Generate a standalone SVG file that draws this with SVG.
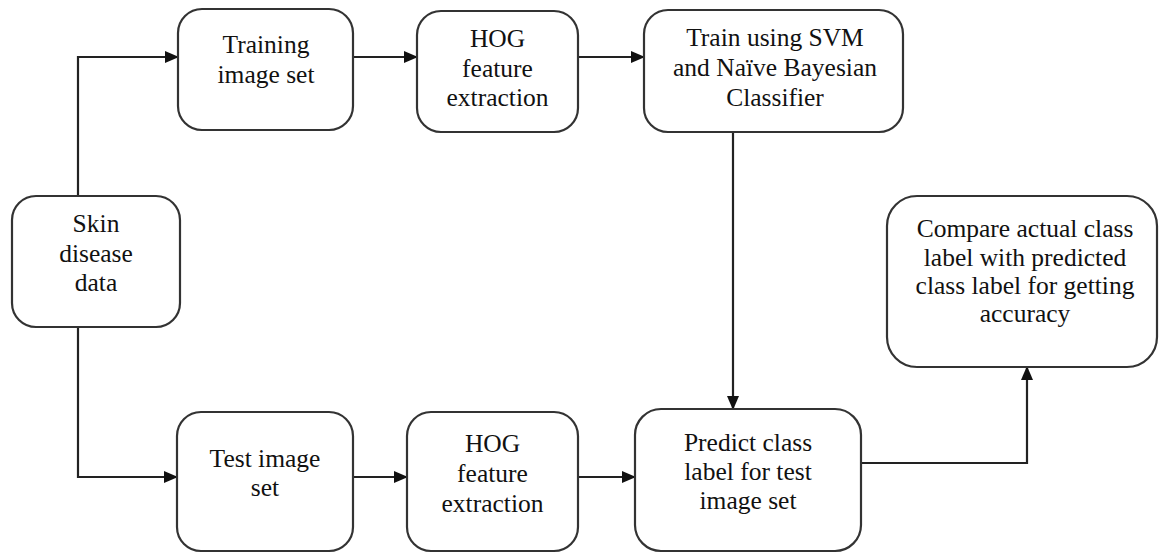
<svg xmlns="http://www.w3.org/2000/svg" width="1159" height="554" viewBox="0 0 1159 554">
<style>
.box{fill:#fff;stroke:#333;stroke-width:2.2}
.t{font-family:"Liberation Serif","Times New Roman",serif;font-size:25.5px;fill:#111;text-anchor:middle}
.c{fill:none;stroke:#222;stroke-width:2.2}
</style>
<defs>
<marker id="ah" markerWidth="14" markerHeight="12" refX="13" refY="6" orient="auto" markerUnits="userSpaceOnUse">
<path d="M0,0 L14,6 L0,12 z" fill="#111"/>
</marker>
</defs>
<rect width="1159" height="554" fill="#fff"/>
<g id="connectors">
<polyline class="c" points="78,196 78,57 178,57" marker-end="url(#ah)"/>
<line class="c" x1="353" y1="57" x2="417" y2="57" marker-end="url(#ah)"/>
<line class="c" x1="578" y1="57" x2="644" y2="57" marker-end="url(#ah)"/>
<line class="c" x1="733" y1="132" x2="733" y2="409" marker-end="url(#ah)"/>
<polyline class="c" points="78,327 78,477 177,477" marker-end="url(#ah)"/>
<line class="c" x1="353" y1="477" x2="407" y2="477" marker-end="url(#ah)"/>
<line class="c" x1="578" y1="477" x2="635" y2="477" marker-end="url(#ah)"/>
<polyline class="c" points="861,463 1027,463 1027,367" marker-end="url(#ah)"/>
</g>
<g id="skin">
<rect class="box" x="12" y="196" width="168" height="131" rx="24"/>
<text class="t" x="96" y="232">Skin</text>
<text class="t" x="96" y="262">disease</text>
<text class="t" x="96" y="291">data</text>
</g>
<g id="training">
<rect class="box" x="178" y="9" width="175" height="121" rx="24"/>
<text class="t" x="266" y="53">Training</text>
<text class="t" x="266" y="83">image set</text>
</g>
<g id="hog1">
<rect class="box" x="417" y="11" width="161" height="121" rx="24"/>
<text class="t" x="497.5" y="47">HOG</text>
<text class="t" x="497.5" y="77">feature</text>
<text class="t" x="497.5" y="106">extraction</text>
</g>
<g id="train">
<rect class="box" x="644" y="10" width="259" height="122" rx="24"/>
<text class="t" x="775" y="46">Train using SVM</text>
<text class="t" x="775" y="76">and Naïve Bayesian</text>
<text class="t" x="775" y="106">Classifier</text>
</g>
<g id="test">
<rect class="box" x="177" y="412" width="176" height="139" rx="24"/>
<text class="t" x="265" y="467">Test image</text>
<text class="t" x="265" y="496">set</text>
</g>
<g id="hog2">
<rect class="box" x="407" y="412" width="171" height="139" rx="24"/>
<text class="t" x="492.5" y="452">HOG</text>
<text class="t" x="492.5" y="482">feature</text>
<text class="t" x="492.5" y="512">extraction</text>
</g>
<g id="predict">
<rect class="box" x="635" y="409" width="226" height="142" rx="26"/>
<text class="t" x="748" y="451">Predict class</text>
<text class="t" x="748" y="480">label for test</text>
<text class="t" x="748" y="509">image set</text>
</g>
<g id="compare">
<rect class="box" x="887" y="196" width="270" height="171" rx="30"/>
<text class="t" x="1025" y="237">Compare actual class</text>
<text class="t" x="1025" y="266">label with predicted</text>
<text class="t" x="1025" y="294">class label for getting</text>
<text class="t" x="1025" y="322">accuracy</text>
</g>
</svg>
